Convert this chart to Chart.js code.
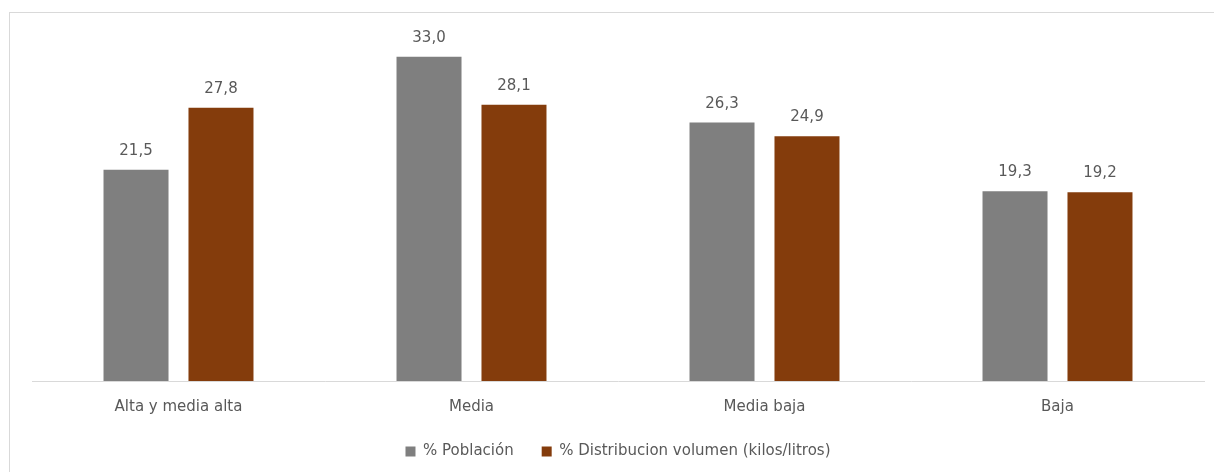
<!DOCTYPE html>
<html>
<head>
<meta charset="utf-8">
<script src="https://cdn.jsdelivr.net/npm/chart.js@4/dist/chart.umd.min.js"></script>
<style>
  html, body { margin: 0; padding: 0; background: #fff; }
  #wrap { position: relative; width: 1214px; height: 472px; }
</style>
</head>
<body>
<div id="wrap"><canvas id="chart" width="1214" height="472"></canvas></div>
<script>
// Datos del gráfico
const categorias = ['Alta y media alta', 'Media', 'Media baja', 'Baja'];
const poblacion = [21.5, 33.0, 26.3, 19.3];
const distribucion = [27.8, 28.1, 24.9, 19.2];
const nombresSeries = ['% Población', '% Distribucion volumen (kilos/litros)'];

const GRIS = '#7f7f7f';
const MARRON = '#843c0c';
const TEXTO = '#595959';
const FUENTE = "'DejaVu Sans', sans-serif";

// marco exterior del gráfico
const marco = {
  id: 'marco',
  beforeDraw(chart) {
    const c = chart.ctx;
    c.save();
    c.strokeStyle = '#d9d9d9';
    c.lineWidth = 1;
    c.strokeRect(9.5, 12.5, chart.width + 20, chart.height + 20);
    c.restore();
  }
};

// etiquetas de valor sobre cada barra (formato con coma decimal)
const etiquetas = {
  id: 'etiquetas',
  afterDatasetsDraw(chart) {
    const c = chart.ctx;
    c.save();
    c.fillStyle = TEXTO;
    c.font = "15px " + FUENTE;
    c.textAlign = 'center';
    c.textBaseline = 'alphabetic';
    chart.data.datasets.forEach((ds, i) => {
      chart.getDatasetMeta(i).data.forEach((bar, j) => {
        c.fillText(ds.data[j].toFixed(1).replace('.', ','), bar.x, bar.y - 15);
      });
    });
    c.restore();
  }
};

new Chart(document.getElementById('chart'), {
  type: 'bar',
  data: {
    labels: categorias,
    datasets: [
      { label: nombresSeries[0], data: poblacion, backgroundColor: GRIS },
      { label: nombresSeries[1], data: distribucion, backgroundColor: MARRON },
    ],
  },
  options: {
    responsive: false,
    animation: false,
    datasets: {
      bar: { categoryPercentage: 0.58, barPercentage: 0.765 },
    },
    layout: { padding: { left: 32, right: 10, top: 37, bottom: 3 } },
    plugins: {
      legend: {
        position: 'bottom',
        labels: {
          boxWidth: 10,
          boxHeight: 10,
          padding: 28,
          color: TEXTO,
          font: { family: FUENTE, size: 15 },
        },
      },
      tooltip: { enabled: false },
    },
    scales: {
      y: {
        display: false,
        min: 0,
        max: 35,
      },
      x: {
        grid: { display: false, drawTicks: false },
        border: { color: '#d9d9d9', width: 1 },
        ticks: {
          color: TEXTO,
          font: { family: FUENTE, size: 15 },
          padding: 17,
        },
        afterFit(scale) { scale.height = 35; },
      },
    },
  },
  plugins: [marco, etiquetas],
});
</script>
</body>
</html>
